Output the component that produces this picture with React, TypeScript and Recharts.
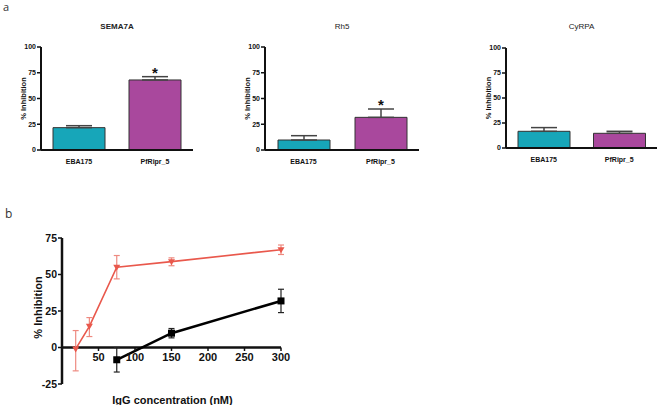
import { BarChart, Bar, Cell, XAxis, YAxis, ErrorBar, LabelList, ScatterChart, Scatter, ReferenceLine, Label } from 'recharts'

// panel a
const groups = ['EBA175', 'PfRipr_5']
const sema7aValues = [21.7, 68]
const sema7aErrors = [1.9, 3.2]
const sema7aSig = ['', '*']
const rh5Values = [9.7, 31.7]
const rh5Errors = [4.2, 8.1]
const rh5Sig = ['', '*']
const cyrpaValues = [16.7, 14.7]
const cyrpaErrors = [3.7, 2]
const cyrpaSig = ['', '']
const barTicks = [0, 25, 50, 75, 100]

// panel b
const redConc = [18.75, 37.5, 75, 150, 300]
const redValues = [-1, 14.5, 55, 58.8, 67]
const redErrLow = [15, 7, 8, 2.8, 3.3]
const redErrHigh = [12.6, 6, 8, 2.6, 3.2]
const blackConc = [75, 150, 300]
const blackValues = [-8.4, 9.8, 31.9]
const blackErr = [8.4, 3.2, 8]
const lineXTicks = [50, 100, 150, 200, 250, 300]
const lineYTicks = [-25, 0, 25, 50, 75]

const FONT = "'Liberation Sans', Arial, sans-serif"
const TEAL = '#17A6B9'
const PURPLE = '#A9489D'
const AXIS = '#111'

const Y_MIN = -25
const Y_MAX = 75
const LINE_H = 185
const LINE_TOP_M = 18
const LINE_X_AXIS_H = 21
const LINE_PLOT_H = LINE_H - LINE_TOP_M - LINE_X_AXIS_H
const ZERO_SHIFT = (LINE_PLOT_H * (0 - Y_MIN)) / (Y_MAX - Y_MIN)

const BAR_X_AXIS_H = 20

function YTitle({ viewBox, size, gap, lift = 0 }: any) {
  const { x, y, width, height } = viewBox
  const cx = x + width - gap
  const cy = y + height / 2 - lift
  return (
    <text
      transform={`translate(${cx},${cy}) rotate(-90)`}
      textAnchor="middle"
      dominantBaseline="central"
      fontFamily={FONT}
      fontWeight="bold"
      fontSize={size}
      fill="#111"
    >
      % Inhibition
    </text>
  )
}

interface PanelProps {
  left: number
  width: number
  height: number
  top: number
  title: string
  bold?: boolean
  values: number[]
  errors: number[]
  sig: string[]
}

function BarPanel({ left, width, height, top, title, bold, values, errors, sig }: PanelProps) {
  const data = groups.map((g, i) => ({ name: g, value: values[i], err: [0, errors[i]], sig: sig[i] }))
  const pxPerUnit = (height - top - BAR_X_AXIS_H) / 100

  // star sits just above the error bar cap
  const Star = ({ x, y, width: w, index, value }: any) => {
    if (!value) return null
    const capY = y - errors[index] * pxPerUnit
    return (
      <text x={x + w / 2} y={capY + 1} textAnchor="middle" fontFamily={FONT} fontWeight="bold" fontSize={15} fill="#111">
        {value}
      </text>
    )
  }

  return (
    <div style={{ position: 'absolute', left, top: 0, width, height }}>
      <div
        style={{
          position: 'absolute',
          left: 41,
          top: 22,
          width: width - 41,
          textAlign: 'center',
          fontFamily: FONT,
          fontSize: 8,
          fontWeight: bold ? 'bold' : 'normal',
          color: '#222',
          lineHeight: '10px',
        }}
      >
        {title}
      </div>
      <BarChart width={width} height={height} data={data} margin={{ top, right: 0, bottom: 0, left: 0 }}>
        <XAxis
          dataKey="name"
          height={BAR_X_AXIS_H}
          tickLine={false}
          axisLine={{ stroke: AXIS, strokeWidth: 2 }}
          tick={{ fontFamily: FONT, fontWeight: 'bold', fontSize: 7, fill: '#111' }}
          tickMargin={3}
        />
        <YAxis
          width={41}
          domain={[0, 100]}
          ticks={barTicks}
          interval={0}
          tickSize={4}
          tickMargin={1}
          axisLine={{ stroke: AXIS, strokeWidth: 2 }}
          tickLine={{ stroke: AXIS, strokeWidth: 1.5 }}
          tick={{ fontFamily: FONT, fontWeight: 'bold', fontSize: 7, fill: '#111' }}
        >
          <Label content={(p: any) => <YTitle {...p} size={7.5} gap={18} />} />
        </YAxis>
        <Bar dataKey="value" barSize={52} stroke="#333" strokeWidth={1} isAnimationActive={false}>
          {data.map((d, i) => (
            <Cell key={d.name} fill={i === 0 ? TEAL : PURPLE} />
          ))}
          <ErrorBar dataKey="err" direction="y" width={13} stroke="#444" strokeWidth={1.5} />
          <LabelList dataKey="sig" content={<Star />} />
        </Bar>
      </BarChart>
    </div>
  )
}

function ZeroAxisTick({ x, y, payload }: any) {
  return (
    <g transform={`translate(${x},${y - ZERO_SHIFT})`}>
      <line x1={0} x2={0} y1={0} y2={3.5} stroke={AXIS} strokeWidth={1.5} />
      <text y={13} textAnchor="middle" fontFamily={FONT} fontWeight="bold" fontSize={11} fill="#111">
        {payload.value}
      </text>
    </g>
  )
}

function Triangle({ cx, cy }: any) {
  return <polygon points={`${cx - 3.5},${cy - 2.5} ${cx + 3.5},${cy - 2.5} ${cx},${cy + 3.5}`} fill="#E9584C" />
}

function Square({ cx, cy }: any) {
  return <rect x={cx - 3.5} y={cy - 3.5} width={7} height={7} fill="#000" />
}

export default function App() {
  const redData = redConc.map((c, i) => ({ x: c, y: redValues[i], err: [redErrLow[i], redErrHigh[i]] }))
  const blackData = blackConc.map((c, i) => ({ x: c, y: blackValues[i], err: [blackErr[i], blackErr[i]] }))

  return (
    <div style={{ position: 'absolute', left: 0, top: 0, width: 657, height: 405, background: '#fff', overflow: 'hidden' }}>
      <div style={{ position: 'absolute', left: 3, top: 1, fontFamily: "'Open Sans', sans-serif", fontSize: 11, lineHeight: '11px', color: '#333' }}>a</div>
      <div style={{ position: 'absolute', left: 5, top: 205, fontFamily: "'Open Sans', sans-serif", fontSize: 12, color: '#333' }}>b</div>

      <BarPanel left={0} width={193} height={170} top={47} title="SEMA7A" bold values={sema7aValues} errors={sema7aErrors} sig={sema7aSig} />
      <BarPanel left={224} width={195} height={170} top={47} title="Rh5" values={rh5Values} errors={rh5Errors} sig={rh5Sig} />
      <BarPanel left={465} width={192} height={168} top={48} title="CyRPA" values={cyrpaValues} errors={cyrpaErrors} sig={cyrpaSig} />

      <div style={{ position: 'absolute', left: 0, top: 220 }}>
        <ScatterChart width={300} height={LINE_H} margin={{ top: LINE_TOP_M, right: 19, bottom: 0, left: 0 }}>
          <XAxis
            type="number"
            dataKey="x"
            domain={[0, 300]}
            ticks={lineXTicks}
            interval={0}
            height={LINE_X_AXIS_H}
            axisLine={false}
            tickLine={false}
            tickSize={0}
            tickMargin={0}
            tick={<ZeroAxisTick />}
          >
            <Label
              content={({ viewBox }: any) => (
                <text
                  x={viewBox.x + viewBox.width / 2 + 1}
                  y={viewBox.y + 16}
                  textAnchor="middle"
                  dominantBaseline="central"
                  fontFamily={FONT}
                  fontWeight="bold"
                  fontSize={11}
                  fill="#111"
                >
                  IgG concentration (nM)
                </text>
              )}
            />
          </XAxis>
          <YAxis
            type="number"
            dataKey="y"
            width={62}
            domain={[Y_MIN, Y_MAX]}
            ticks={lineYTicks}
            interval={0}
            tickSize={4}
            tickMargin={1}
            axisLine={{ stroke: AXIS, strokeWidth: 2.5 }}
            tickLine={{ stroke: AXIS, strokeWidth: 1.5 }}
            tick={{ fontFamily: FONT, fontWeight: 'bold', fontSize: 10.5, fill: '#111' }}
          >
            <Label content={(p: any) => <YTitle {...p} size={11} gap={24} lift={3.5} />} />
          </YAxis>
          <ReferenceLine y={0} stroke={AXIS} strokeWidth={2.5} />
          <Scatter
            data={redData}
            shape={<Triangle />}
            line={{ stroke: '#E9584C', strokeWidth: 1.6 }}
            isAnimationActive={false}
          >
            <ErrorBar dataKey="err" direction="y" width={3} stroke="#EE8A80" strokeWidth={1.2} />
          </Scatter>
          <Scatter
            data={blackData}
            shape={<Square />}
            line={{ stroke: '#000', strokeWidth: 2.5 }}
            isAnimationActive={false}
          >
            <ErrorBar dataKey="err" direction="y" width={3} stroke="#222" strokeWidth={1.2} />
          </Scatter>
        </ScatterChart>
      </div>
    </div>
  )
}
